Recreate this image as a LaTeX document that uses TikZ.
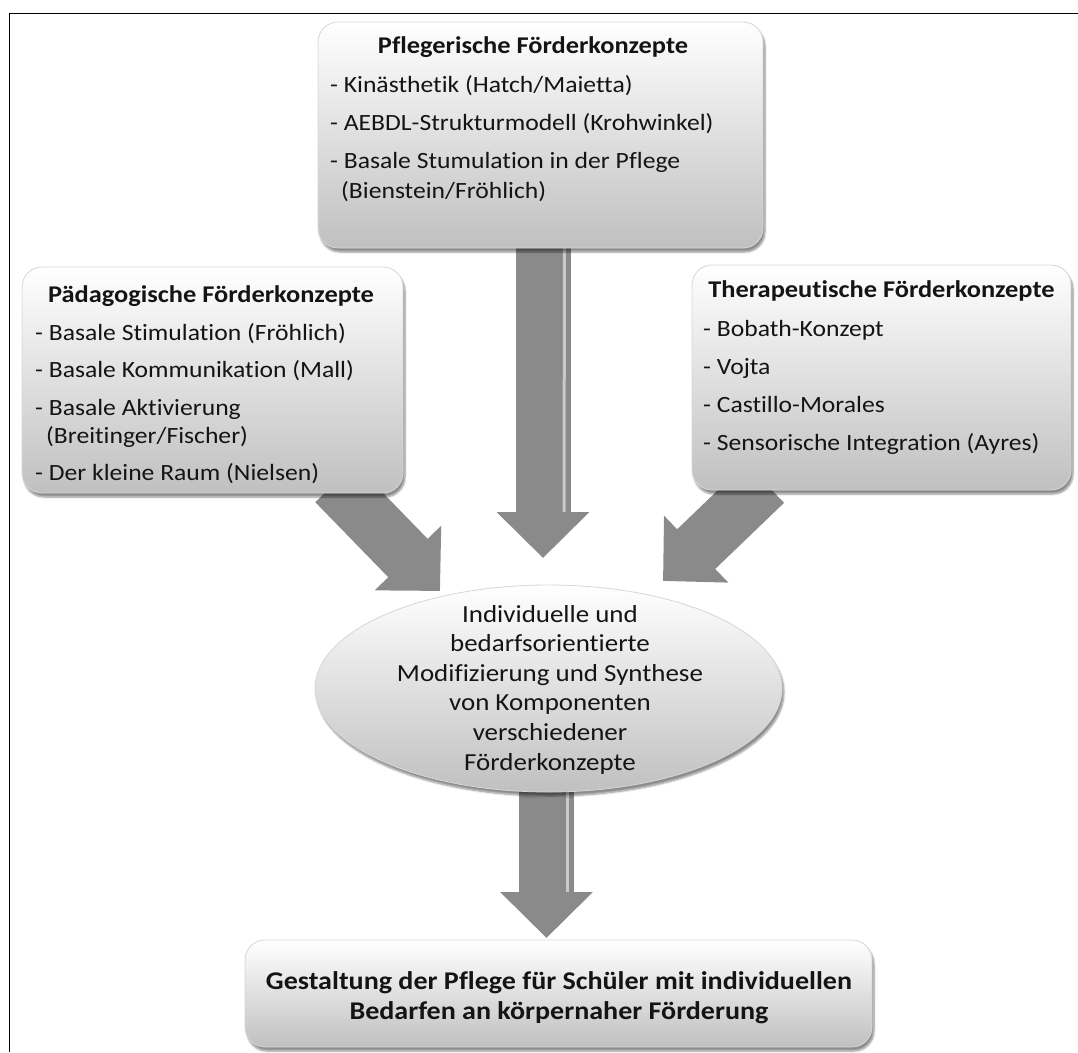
\documentclass[tikz,border=0pt]{standalone}
\usepackage{fontspec}
\setmainfont{Carlito}[FakeStretch=1.1, Ligatures={NoCommon,NoContextual}, RawFeature={-calt;-clig;-liga}]
\usetikzlibrary{shapes.geometric,arrows.meta,shadows.blur,calc}

\definecolor{ink}{HTML}{141414}
\definecolor{arrowgray}{HTML}{8A8A8A}
\definecolor{boxedge}{HTML}{D6D6D6}
\definecolor{boxbottom}{HTML}{C0C0C0}

\pgfdeclarelayer{bg}
\pgfsetlayers{bg,main}

\tikzset{
  boxshadow/.style={blur shadow={shadow xshift=2pt, shadow yshift=-4pt,
      shadow blur steps=6, shadow opacity=45}},
  conceptbox/.style={rectangle, rounded corners=20pt, draw=boxedge,
      line width=0.8pt, top color=white, bottom color=boxbottom,
      inner sep=0pt, boxshadow},
  synthesis/.style={ellipse, draw=boxedge, line width=0.8pt,
      top color=white, bottom color=boxbottom, inner sep=0pt, boxshadow},
  listtext/.style={inner sep=0pt, text=ink, font=\fontsize{23.3}{28}\selectfont},
  titletext/.style={inner sep=0pt, text=ink, font=\fontsize{24}{28}\selectfont\bfseries},
  flowarrow/.style={draw=arrowgray, line width=55pt,
      -{Triangle[length=46pt, width=90pt]}},
  gloss/.style={draw=white, opacity=0.55, line width=3pt},
}

\begin{document}
\begin{tikzpicture}[x=1pt, y=-1pt]
\useasboundingbox (0,0) rectangle (1078,1052);

% outer frame (open at the right and bottom)
\draw[line width=1.6pt] (9.5,1052) -- (9.5,13.5) -- (1078,13.5);

% concept boxes
\node[conceptbox, minimum width=445pt, minimum height=226pt] (pflege) at (540.5,135) {};
\node[conceptbox, minimum width=381pt, minimum height=226pt] (paed) at (212.5,380) {};
\node[conceptbox, minimum width=379pt, minimum height=225pt] (thera) at (881.5,377.5) {};
\node[synthesis, minimum width=467pt, minimum height=207pt] (mix) at (548.5,688.5) {};
\node[conceptbox, minimum width=627pt, minimum height=107pt] (result) at (558.5,993.5) {};

% box contents
\node[titletext, anchor=base] (pflegeT) at (533,53) {Pflegerische Förderkonzepte};
\node[listtext, anchor=base west] (pflegeL) at (330,92) {\begin{tabular}[t]{@{}l@{}}
  - Kinästhetik (Hatch/Maietta)\\[10pt]
  - AEBDL-Strukturmodell (Krohwinkel)\\[10pt]
  - Basale Stumulation in der Pflege\\[2pt]
  \hspace*{11pt}(Bienstein/Fröhlich)\end{tabular}};

\node[titletext, anchor=base] (paedT) at (211,302) {Pädagogische Förderkonzepte};
\node[listtext, anchor=base west] (paedL) at (35,340) {\begin{tabular}[t]{@{}l@{}}
  - Basale Stimulation (Fröhlich)\\[9pt]
  - Basale Kommunikation (Mall)\\[10pt]
  - Basale Aktivierung\\
  \hspace*{11pt}(Breitinger/Fischer)\\[9pt]
  - Der kleine Raum (Nielsen)\end{tabular}};

\node[titletext, anchor=base] (theraT) at (881.5,297) {Therapeutische Förderkonzepte};
\node[listtext, anchor=base west] (theraL) at (703,336) {\begin{tabular}[t]{@{}l@{}}
  - Bobath-Konzept\\[10pt]
  - Vojta\\[10pt]
  - Castillo-Morales\\[10pt]
  - Sensorische Integration (Ayres)\end{tabular}};

\node[listtext, anchor=base, font=\fontsize{24.5}{29.6}\selectfont] (mixT) at (550,622) {\begin{tabular}[t]{@{}c@{}}
  Individuelle und\\
  bedarfsorientierte\\
  Modifizierung und Synthese\\
  von Komponenten\\
  verschiedener\\
  Förderkonzepte\end{tabular}};

\node[titletext, anchor=base, font=\fontsize{25.5}{30}\selectfont\bfseries] (resultT) at (559,989) {\begin{tabular}[t]{@{}c@{}}
  Gestaltung der Pflege für Schüler mit individuellen\\
  Bedarfen an körpernaher Förderung\end{tabular}};

% arrow tips
\coordinate (tipP) at (543,558);
\coordinate (tipL) at (440,591);
\coordinate (tipR) at (663,581);
\coordinate (tipM) at (546.5,938);

% broad arrows, tucked under the boxes
\begin{pgfonlayer}{bg}
  \draw[flowarrow] ($(pflege.south)+(2.5,-12)$) -- (tipP);
  \draw[gloss] ($(pflege.south)+(24,-12)$) -- ($(tipP)+(21,-46)$);
  \draw[flowarrow] (335,483) -- (tipL);
  \draw[flowarrow] (765,483) -- (tipR);
  \draw[flowarrow] ($(mix.south)+(-2,-12)$) -- (tipM);
  \draw[gloss] ($(mix.south)+(19,-12)$) -- ($(tipM)+(21,-46)$);
\end{pgfonlayer}
\end{tikzpicture}
\end{document}
